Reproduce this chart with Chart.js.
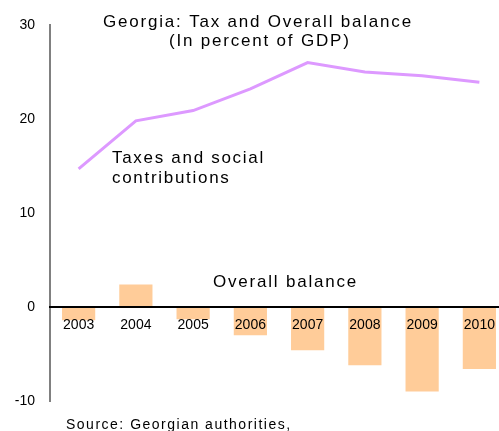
<!DOCTYPE html>
<html>
<head>
<meta charset="utf-8">
<script src="https://cdn.jsdelivr.net/npm/chart.js@4/dist/chart.umd.min.js"></script>
<style>
    html, body { margin: 0; padding: 0; background: #fff; overflow: hidden; }
    #wrap { width: 508px; height: 431px; }
</style>
</head>
<body>
<div id="wrap"><canvas id="myChart" width="508" height="431"></canvas></div>
<script>
// Years on the x axis
const years = ['2003', '2004', '2005', '2006', '2007', '2008', '2009', '2010'];

// Taxes and social contributions, percent of GDP
const taxes = [14.7, 19.8, 20.9, 23.2, 26.0, 25.0, 24.6, 23.9];

// Overall balance, percent of GDP
const balance = [-1.4, 2.4, -1.3, -3.0, -4.6, -6.2, -9.0, -6.6];

// Y axis range and step
const yMin = -10;
const yMax = 30;
const yStep = 10;

const fontFamily = "Arial, 'Liberation Sans', sans-serif";

// Free text drawn on top of the chart
const textLabels = [
    { text: 'Georgia: Tax and Overall balance', x: 103, y: 27, size: 17, spacing: 1.8 },
    { text: '(In percent of GDP)', x: 169, y: 46, size: 17, spacing: 1.8 },
    { text: 'Taxes and social', x: 112, y: 163, size: 17, spacing: 1.7 },
    { text: 'contributions', x: 112, y: 183, size: 17, spacing: 1.7 },
    { text: 'Overall balance', x: 213, y: 287, size: 17, spacing: 1.8 },
    { text: 'Source: Georgian authorities,', x: 66, y: 429, size: 14, spacing: 1.5 }
];

const textPlugin = {
    id: 'textPlugin',
    afterDraw(chart) {
        const ctx = chart.ctx;
        ctx.save();
        ctx.fillStyle = '#000';
        ctx.textAlign = 'left';
        ctx.textBaseline = 'alphabetic';
        textLabels.forEach(t => {
            ctx.font = t.size + 'px ' + fontFamily;
            ctx.letterSpacing = t.spacing + 'px';
            ctx.fillText(t.text, t.x, t.y);
        });
        ctx.restore();
    }
};

Chart.defaults.font.family = fontFamily;
Chart.defaults.color = '#000';

const ctx = document.getElementById('myChart').getContext('2d');
const myChart = new Chart(ctx, {
    type: 'bar',
    data: {
        labels: years,
        datasets: [
            {
                type: 'line',
                label: 'Taxes and social contributions',
                data: taxes,
                borderColor: '#dd99ff',
                borderWidth: 3,
                pointRadius: 0,
                tension: 0,
                fill: false,
                order: 0
            },
            {
                type: 'bar',
                label: 'Overall balance',
                data: balance,
                backgroundColor: '#ffcc99',
                borderWidth: 0,
                barPercentage: 0.58,
                categoryPercentage: 1,
                order: 1
            }
        ]
    },
    options: {
        responsive: false,
        animation: false,
        layout: {
            padding: { top: 25, bottom: 30, left: 0, right: 0 }
        },
        plugins: {
            legend: { display: false },
            title: { display: false },
            tooltip: { enabled: false }
        },
        scales: {
            x: {
                // zero line with the year labels sitting just under it, over the bars
                position: { y: 0 },
                grid: { display: false, drawTicks: false },
                border: { display: true, color: '#000', width: 2, z: 1 },
                ticks: {
                    z: 1,
                    padding: 10,
                    color: '#000',
                    font: { size: 14 },
                    autoSkip: false,
                    maxRotation: 0
                },
                afterFit(scale) {
                    scale.height = 0;
                }
            },
            y: {
                min: yMin,
                max: yMax,
                grid: { display: false, drawTicks: false },
                border: { display: true, color: '#808080', width: 2 },
                ticks: {
                    stepSize: yStep,
                    padding: 15,
                    color: '#000',
                    font: { size: 14 }
                },
                afterFit(scale) {
                    scale.width = 50;
                }
            }
        }
    },
    plugins: [textPlugin]
});
</script>
</body>
</html>
